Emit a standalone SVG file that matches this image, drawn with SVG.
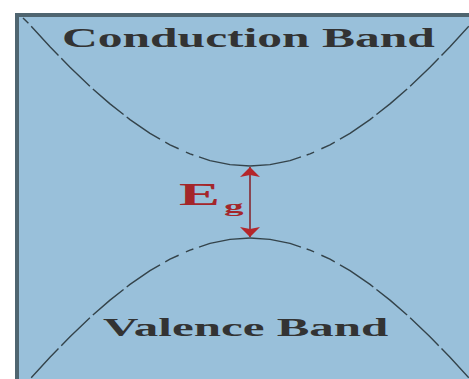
<svg xmlns="http://www.w3.org/2000/svg" width="469" height="379" viewBox="0 0 469 379">
  <style>
    .band { fill: none; stroke: #34434a; stroke-width: 1.4; stroke-linejoin: round; stroke-dasharray: 52 6 8 8 15 6 40 4 40 4 40 4 40 4 40 4 40 4; }
    .lbl { font-family: "Liberation Serif", "Times New Roman", serif; font-weight: bold; fill: #333333; }
    .eg { font-family: "Liberation Serif", "Times New Roman", serif; font-weight: bold; fill: #a4262a; }
  </style>
  <defs>
    <marker id="head" viewBox="0 0 10 20" refX="10" refY="10" markerWidth="10" markerHeight="20" markerUnits="userSpaceOnUse" orient="auto">
      <path d="M0,0 L10,10 L0,20 L2,10 Z" fill="#b5262a"/>
    </marker>
  </defs>
  <rect x="0" y="0" width="469" height="379" fill="#ffffff"/>
  <rect x="17" y="15" width="470" height="380" fill="#99c0da" stroke="#4f6570" stroke-width="4"/>

  <g id="conduction-curve">
    <path class="band" d="M250,166 L230,164.6 L210,160.6 L190,153.9 L170,144.8 L150,133.3 L130,119.6 L110,103.9 L90,86.4 L70,67.3 L50,46.7 L30,24.9 L23,18"/>
    <path class="band" d="M250,166 L270,164.6 L290,160.6 L310,153.9 L330,144.8 L350,133.3 L370,119.6 L390,103.9 L410,86.4 L430,67.3 L450,46.7 L470,24.9 L490,2"/>
  </g>
  <g id="valence-curve">
    <path class="band" d="M250,238 L230,239.4 L210,243.4 L190,250.1 L170,259.2 L150,270.7 L130,284.4 L110,300.1 L90,317.6 L70,336.7 L50,357.3 L30,379.1 L10,402"/>
    <path class="band" d="M250,238 L270,239.4 L290,243.4 L310,250.1 L330,259.2 L350,270.7 L370,284.4 L390,300.1 L410,317.6 L430,336.7 L450,357.3 L470,379.1 L490,402"/>
  </g>

  <g id="conduction-band">
    <text class="lbl" x="0" y="0" font-size="27" transform="translate(62,47) scale(1.835,1)">Conduction Band</text>
  </g>
  <g id="valence-band">
    <text class="lbl" x="0" y="0" font-size="25" transform="translate(103,336) scale(1.96,1)">Valence Band</text>
  </g>

  <g id="connectors">
    <line x1="250" y1="202" x2="250" y2="167" stroke="#8a4652" stroke-width="2" marker-end="url(#head)"/>
    <line x1="250" y1="202" x2="250" y2="237" stroke="#8a4652" stroke-width="2" marker-end="url(#head)"/>
  </g>
  <g id="eg-label">
    <text class="eg" x="0" y="0" font-size="31" transform="translate(179,205) scale(1.98,1)">E</text>
    <text class="eg" x="0" y="0" font-size="17" transform="translate(224,212) scale(2.3,1)">g</text>
  </g>
</svg>
